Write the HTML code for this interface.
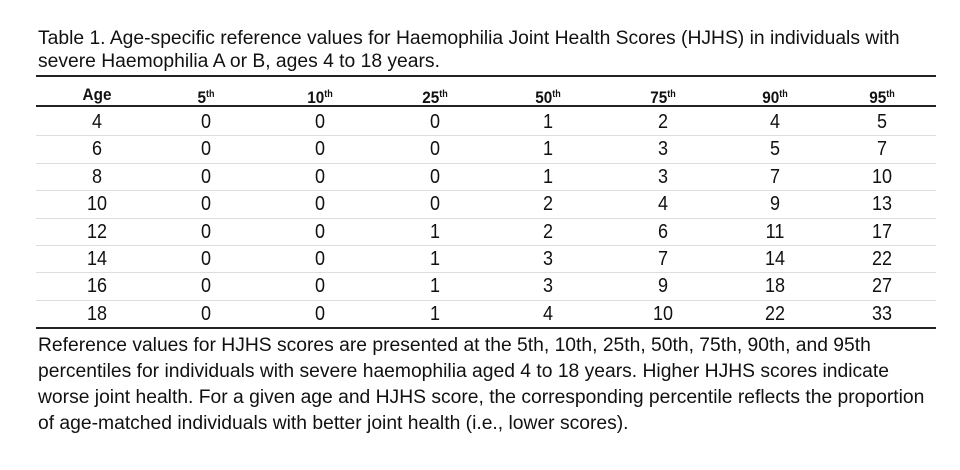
<!DOCTYPE html>
<html><head><meta charset="utf-8"><style>
body{margin:0;width:960px;height:470px;background:#fff;position:relative;overflow:hidden;font-family:"Liberation Sans",Arial,sans-serif;color:#111}
.t{position:absolute;left:38px;font-size:19.3px;white-space:nowrap;line-height:23px}
.rule{position:absolute;left:36px;width:900px;background:#222}
.sep{position:absolute;left:36px;width:900px;height:1px;background:#ddd}
.c{position:absolute;font-size:20px;transform:translateX(-50%) scaleX(0.9);white-space:nowrap;line-height:22px}
.h{font-weight:bold;font-size:17px}
.h sup{font-size:10px;vertical-align:6px}
</style></head><body>
<div class="t" style="top:27px">Table 1. Age-specific reference values for Haemophilia Joint Health Scores (HJHS) in individuals with</div>
<div class="t" style="top:50px">severe Haemophilia A or B, ages 4 to 18 years.</div>
<div class="rule" style="top:75px;height:2px"></div>
<div class="rule" style="top:105px;height:1.5px"></div>
<div class="rule" style="top:327px;height:2px"></div>
<div id="tbl"></div>
<div class="t" style="top:334px">Reference values for HJHS scores are presented at the 5th, 10th, 25th, 50th, 75th, 90th, and 95th</div>
<div class="t" style="top:360px">percentiles for individuals with severe haemophilia aged 4 to 18 years. Higher HJHS scores indicate</div>
<div class="t" style="top:386px">worse joint health. For a given age and HJHS score, the corresponding percentile reflects the proportion</div>
<div class="t" style="top:412px">of age-matched individuals with better joint health (i.e., lower scores).</div>
<script>
var xs=[97,206,320,435,548,663,775,882];
var hd=['Age','5<sup>th</sup>','10<sup>th</sup>','25<sup>th</sup>','50<sup>th</sup>','75<sup>th</sup>','90<sup>th</sup>','95<sup>th</sup>'];
var rows=[[4,0,0,0,1,2,4,5],[6,0,0,0,1,3,5,7],[8,0,0,0,1,3,7,10],[10,0,0,0,2,4,9,13],[12,0,0,1,2,6,11,17],[14,0,0,1,3,7,14,22],[16,0,0,1,3,9,18,27],[18,0,0,1,4,10,22,33]];
var h='';
hd.forEach(function(s,i){h+='<div class="c h" style="left:'+xs[i]+'px;top:84px">'+s+'</div>';});
rows.forEach(function(r,j){var y=111+j*27.4;
 if(j>0)h+='<div class="sep" style="top:'+(y-3)+'px"></div>';
 r.forEach(function(v,i){h+='<div class="c" style="left:'+xs[i]+'px;top:'+y+'px">'+v+'</div>';});});
document.getElementById('tbl').innerHTML=h;
</script>
</body></html>
